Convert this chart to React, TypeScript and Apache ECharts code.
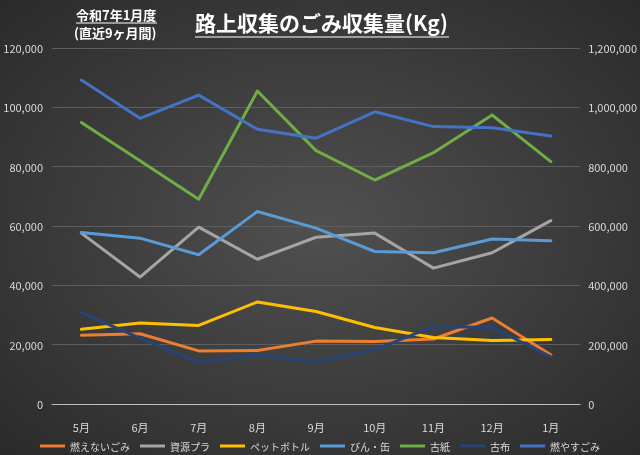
import React, { useEffect, useRef } from "react";
import * as echarts from "echarts";

const months = ["5月", "6月", "7月", "8月", "9月", "10月", "11月", "12月", "1月"];
const moenai = [23200, 23700, 17900, 18000, 21200, 21100, 21900, 29000, 16600];
const shigenPla = [57600, 42800, 59600, 48800, 56200, 57600, 45800, 51000, 61800];
const petBottle = [25200, 27300, 26500, 34400, 31200, 25800, 22400, 21400, 21700];
const binKan = [57800, 55900, 50300, 64900, 59300, 51400, 51000, 55600, 55000];
const koshi = [94900, 82000, 69000, 105500, 85400, 75500, 84700, 97400, 81700];
const kofu = [30800, 22200, 14000, 16600, 14300, 18300, 26100, 25800, 16000];
const moyasu = [1092000, 963000, 1041000, 926000, 896000, 985000, 935000, 931000, 903000];

const leftTicks = { min: 0, max: 120000, interval: 20000 };
const rightTicks = { min: 0, max: 1200000, interval: 200000 };

const titleText = "路上収集のごみ収集量(Kg)";
const subTitle1 = "令和7年1月度";
const subTitle2 = "(直近9ヶ月間)";

const FONT = "'Noto Sans CJK JP', 'Noto Sans', sans-serif";

export default function App() {
  const ref = useRef<HTMLDivElement>(null);
  useEffect(() => {
    if (!ref.current) return;
    const chart = echarts.init(ref.current, undefined, { renderer: "svg" });
    const fmt = (v: number) => v.toLocaleString("en-US");
    const mk = (name: string, data: number[], color: string, yAxisIndex = 0) => ({
      name,
      type: "line",
      data,
      yAxisIndex,
      symbol: "none",
      lineStyle: { width: 3, color, cap: "round", join: "round" },
      itemStyle: { color },
    });
    chart.setOption({
      animation: false,
      backgroundColor: {
        type: "radial",
        x: 0.5,
        y: 0.5,
        r: 0.75,
        colorStops: [
          { offset: 0, color: "#505050" },
          { offset: 1, color: "#282828" },
        ],
      },
      textStyle: { fontFamily: FONT },
      grid: { left: 52, right: 58, top: 48, bottom: 51 },
      graphic: [
        {
          type: "text",
          left: 195,
          top: 11,
          style: { text: titleText, fill: "#ffffff", font: `bold 21px ${FONT}` },
        },
        {
          type: "line",
          shape: { x1: 195, y1: 37, x2: 449, y2: 37 },
          style: { stroke: "#ffffff", lineWidth: 1.2 },
        },
        {
          type: "text",
          left: 76,
          top: 8,
          style: { text: subTitle1, fill: "#ffffff", font: `bold 13px ${FONT}` },
        },
        {
          type: "line",
          shape: { x1: 76, y1: 23, x2: 157, y2: 23 },
          style: { stroke: "#ffffff", lineWidth: 1 },
        },
        {
          type: "text",
          left: 74,
          top: 26,
          style: { text: subTitle2, fill: "#ffffff", font: `bold 13px ${FONT}` },
        },
      ],
      legend: {
        top: 441,
        left: "center",
        padding: 0,
        icon: "rect",
        itemWidth: 25,
        itemHeight: 3,
        itemGap: 10,
        textStyle: { color: "#d9d9d9", fontSize: 10, fontFamily: FONT },
        data: ["燃えないごみ", "資源プラ", "ペットボトル", "びん・缶", "古紙", "古布", "燃やすごみ"],
      },
      xAxis: {
        type: "category",
        data: months,
        axisTick: { show: false },
        axisLine: { lineStyle: { color: "#bfbfbf", width: 1 } },
        axisLabel: { color: "#d9d9d9", fontSize: 11, margin: 17 },
      },
      yAxis: [
        {
          type: "value",
          ...leftTicks,
          axisLabel: { color: "#d9d9d9", fontSize: 11, margin: 9, formatter: fmt },
          axisLine: { show: false },
          axisTick: { show: false },
          splitLine: { lineStyle: { color: "#5e5e5e", width: 1 } },
        },
        {
          type: "value",
          ...rightTicks,
          position: "right",
          axisLabel: { color: "#d9d9d9", fontSize: 11, margin: 8, formatter: fmt },
          axisLine: { show: false },
          axisTick: { show: false },
          splitLine: { show: false },
        },
      ],
      series: [
        mk("燃えないごみ", moenai, "#ED7D31"),
        mk("資源プラ", shigenPla, "#A5A5A5"),
        mk("ペットボトル", petBottle, "#FFC000"),
        mk("びん・缶", binKan, "#5B9BD5"),
        mk("古紙", koshi, "#70AD47"),
        mk("古布", kofu, "#264478"),
        mk("燃やすごみ", moyasu, "#4472C4", 1),
      ],
    });
    return () => chart.dispose();
  }, []);
  return (
    <div
      ref={ref}
      style={{ position: "fixed", left: 0, top: 0, width: 640, height: 455 }}
    />
  );
}
